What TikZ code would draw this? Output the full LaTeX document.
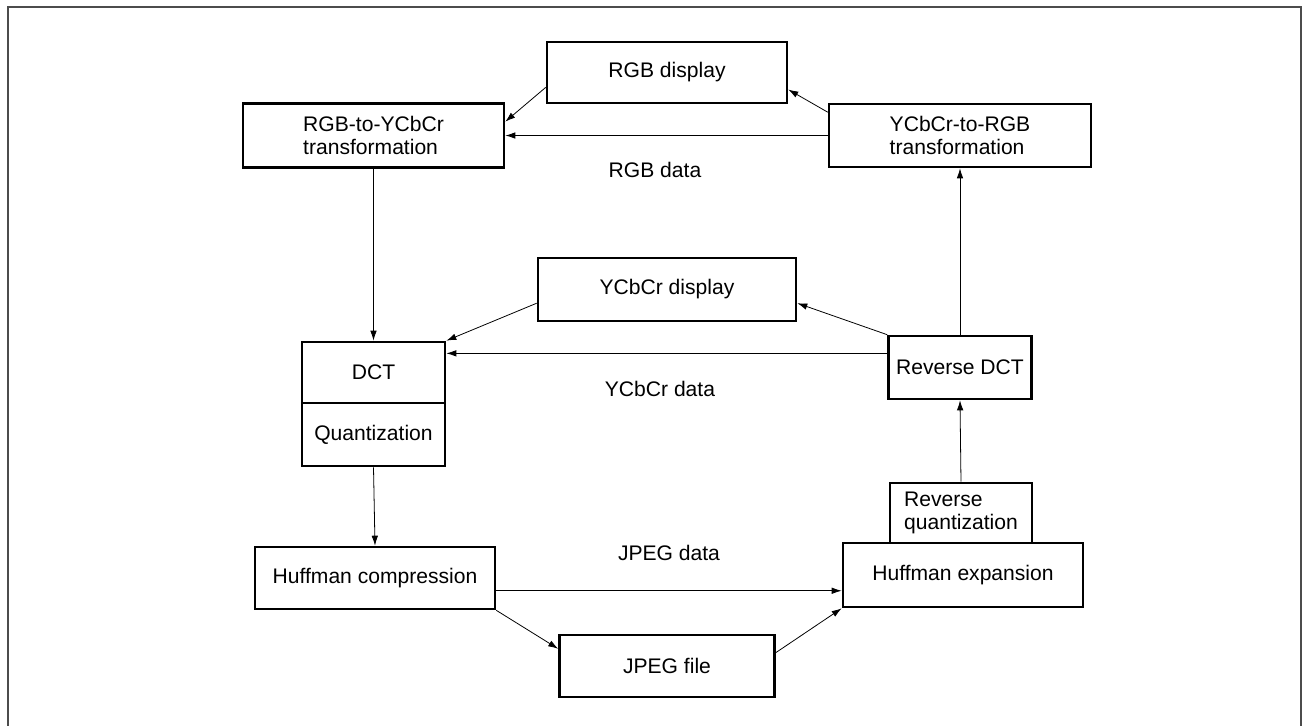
\documentclass[tikz,border=0pt]{standalone}
\usepackage{fontspec}
\setmainfont{Liberation Sans}
\usetikzlibrary{arrows.meta}

\tikzset{
	procbox/.style={rectangle, draw, line width=1.5pt, inner sep=2pt, font=\fontsize{12}{13.5}\selectfont},
	flow/.style={-{Latex[length=2mm,width=1.3mm]}, line width=0.45pt},
	datalabel/.style={font=\fontsize{12}{13.5}\selectfont}
}

\begin{document}
\begin{tikzpicture}[x=0.02cm, y=-0.02cm]
		
		\useasboundingbox (0,0) rectangle (1303,725);
		\draw[line width=0.8pt, black!70] (8,740) -- (8,7) -- (1301,7) -- (1301,740);
		
		% Node
		
		\node[procbox, minimum width=4.8cm, minimum height=1.22cm]
		(rgbdisp) at (667,72.5) {RGB display};
		\node[procbox, align=left, minimum width=5.22cm, minimum height=1.28cm]
		(rgbtoycc) at (373.5,135.5) {RGB-to-YCbCr\\transformation};
		\node[procbox, align=left, minimum width=5.24cm, minimum height=1.26cm]
		(ycctorgb) at (960,135.5) {YCbCr-to-RGB\\transformation};
		
		\node[procbox, minimum width=5.16cm, minimum height=1.26cm]
		(yccdisp) at (667,289.5) {YCbCr display};
		\node[procbox, minimum width=2.86cm, minimum height=1.22cm]
		(dct) at (373.5,372.5) {DCT};
		\node[procbox, minimum width=2.86cm, minimum height=1.26cm]
		(quant) at (373.5,434.5) {Quantization};
		\node[procbox, minimum width=2.86cm, minimum height=1.26cm]
		(revdct) at (960,367.5) {Reverse DCT};
		
		\node[procbox, align=left, minimum width=2.84cm, minimum height=1.2cm]
		(revquant) at (961,513) {Reverse\\quantization};
		\node[procbox, minimum width=4.8cm, minimum height=1.28cm]
		(huffexp) at (963,575) {Huffman expansion};
		\node[procbox, minimum width=4.8cm, minimum height=1.24cm]
		(huffcomp) at (375,578) {Huffman compression};
		\node[procbox, minimum width=4.3cm, minimum height=1.24cm]
		(jpegfile) at (667,666) {JPEG file};
		
		% Labels
		
		\node[datalabel] (rgbdata) at (655,170) {RGB data};
		\node[datalabel] (yccdata) at (660,389) {YCbCr data};
		\node[datalabel] (jpegdata) at (669,553) {JPEG data};
		
		% EDGE
		
		\draw[flow] (rgbdisp.187) -- (rgbtoycc.6.6);
		\draw[flow] (ycctorgb.170.7) -- (rgbdisp.352.6);
		\draw[flow] (ycctorgb.west) -- (rgbtoycc.east);
		\draw[flow] (rgbtoycc.south) -- (dct.north);
		
		\draw[flow] (yccdisp.186.8) -- (dct.north east);
		\draw[flow] (revdct.169.3) -- (revdct.169.3 -| dct.east);
		\draw[flow] (revdct.north west) -- (yccdisp.354.5);
		\draw[flow] (revdct.north) -- (ycctorgb.south);
		
		\draw[flow] (revquant.north) -- (revdct.south);
		\draw[flow] (quant.south) -- (huffcomp.north);
		\draw[flow] (huffcomp.354.8) -- (huffcomp.354.8 -| huffexp.west);
		\draw[flow] (huffcomp.south east) -- (jpegfile.171.5);
		\draw[flow] (jpegfile.7.4) -- (huffexp.south west);
		
\end{tikzpicture}
\end{document}
